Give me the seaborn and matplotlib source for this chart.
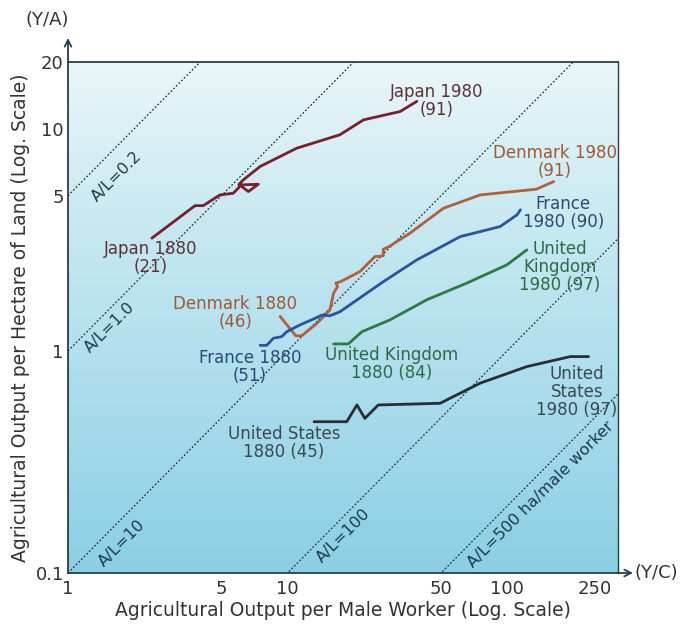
import numpy as np
import pandas as pd
import matplotlib
matplotlib.use("Agg")
import matplotlib.pyplot as plt
from matplotlib.colors import LinearSegmentedColormap
import seaborn as sns

# ---- series: agricultural output per male worker (x) vs per hectare (y), 1880-1980
japan_x = [2.41, 3.79, 4.13, 4.92, 5.66, 5.97, 6.08, 7.36, 6.63, 6.0, 6.3, 7.5, 11.0, 17.3, 22.2, 32.6, 38.8]
japan_y = [3.22, 4.51, 4.51, 5.04, 5.13, 5.41, 5.59, 5.63, 5.22, 5.62, 5.9, 6.77, 8.18, 9.4, 10.98, 11.97, 13.3]

denmark_x = [9.25, 10.9, 11.6, 13.6, 15.6, 16.2, 16.9, 16.6, 17.4, 19.3, 21.4, 25.0, 27.3, 27.3, 29.0, 36.1, 51.3, 75.4, 136, 163]
denmark_y = [1.43, 1.17, 1.17, 1.33, 1.53, 1.82, 1.95, 2.02, 2.05, 2.16, 2.28, 2.66, 2.68, 2.87, 2.95, 3.39, 4.39, 5.04, 5.35, 5.79]

france_x = [7.5, 8.04, 8.62, 9.41, 9.91, 11.4, 13.3, 14.3, 15.6, 17.3, 27.3, 38.8, 61.1, 92.9, 111, 115]
france_y = [1.06, 1.06, 1.14, 1.16, 1.22, 1.31, 1.40, 1.45, 1.44, 1.50, 2.05, 2.57, 3.27, 3.63, 4.1, 4.32]

uk_x = [16.2, 18.9, 21.8, 29.3, 43.1, 65.5, 99.7, 123]
uk_y = [1.075, 1.075, 1.22, 1.38, 1.70, 2.02, 2.44, 2.85]

us_x = [13.2, 18.6, 20.7, 22.5, 25.9, 49.5, 75.4, 123, 194, 235]
us_y = [0.48, 0.48, 0.571, 0.497, 0.571, 0.581, 0.716, 0.85, 0.943, 0.943]

countries = ["Japan", "Denmark", "France", "United Kingdom", "United States"]
line_colors = ["#7a1e2c", "#b0603a", "#2a52a0", "#2e7a40", "#2a2e33"]
text_colors = ["#5a3236", "#9c5a36", "#2a4878", "#2d6a45", "#3a4852"]

# land-labour ratio reference lines (ha per male worker)
al_ratios = [0.2, 1.0, 10, 100, 500]
al_labels = ["A/L=0.2", "A/L=1.0", "A/L=10", "A/L=100", "A/L=500 ha/male worker"]
al_label_pos = [(1.67, 6.08), (1.55, 1.27), (1.76, 0.136), (17.9, 0.148), (143, 0.225)]

x_ticks = [1, 5, 10, 50, 100, 250]
x_ticklabels = ["1", "5", "10", "50", "100", "250"]
y_ticks = [0.1, 1, 5, 10, 20]
y_ticklabels = ["0.1", "1", "5", "10", "20"]

# endpoint annotations: (text, x, y, colour index)
point_labels = [
    ("Japan 1880\n(21)", 2.39, 2.61, 0),
    ("Japan 1980\n(91)", 48.0, 13.4, 0),
    ("Denmark 1880\n(46)", 5.77, 1.48, 1),
    ("Denmark 1980\n(91)", 165, 7.1, 1),
    ("France 1880\n(51)", 6.75, 0.843, 2),
    ("France\n1980 (90)", 180, 4.16, 2),
    ("United Kingdom\n1880 (84)", 29.9, 0.869, 3),
    ("United\nKingdom\n1980 (97)", 174, 2.39, 3),
    ("United States\n1880 (45)", 9.64, 0.385, 4),
    ("United\nStates\n1980 (97)", 208, 0.65, 4),
]

sns.set_theme(style="white")
plt.rcParams["font.family"] = ["DejaVu Sans"]

series = {
    "Japan": (japan_x, japan_y),
    "Denmark": (denmark_x, denmark_y),
    "France": (france_x, france_y),
    "United Kingdom": (uk_x, uk_y),
    "United States": (us_x, us_y),
}
frames = []
for name in countries:
    xs, ys = series[name]
    frames.append(pd.DataFrame({"country": name, "step": range(len(xs)),
                                "output_per_worker": xs, "output_per_ha": ys}))
df = pd.concat(frames, ignore_index=True)

W, H = 684, 624
fig = plt.figure(figsize=(W / 100, H / 100), dpi=100)
fig.patch.set_facecolor("white")
left, right, top, bottom = 68, 618, 62, 573
rect = [left / W, 1 - bottom / H, (right - left) / W, (bottom - top) / H]

# background wash: pale at the top, sky blue at the bottom
bg = fig.add_axes(rect, zorder=0)
cmap = LinearSegmentedColormap.from_list(
    "wash", ["#8bcfe4", "#a9dcec", "#c6e8f1", "#e9f6f8"])
grad = np.linspace(0, 1, 256).reshape(-1, 1)
bg.imshow(grad, aspect="auto", cmap=cmap, origin="lower", extent=[0, 1, 0, 1])
bg.set_axis_off()

ax = fig.add_axes(rect, zorder=1)
ax.set_facecolor("none")
ax.set_xscale("log")
ax.set_yscale("log")
ax.set_xlim(1, 320)
ax.set_ylim(0.1, 20)

# reference lines of constant land per worker: y = x / (A/L)
xs_ref = np.geomspace(1, 320, 200)
for ratio in al_ratios:
    ax.plot(xs_ref, xs_ref / ratio, color="#1e2a33", lw=0.9,
            ls=(0, (1.4, 1.6)), zorder=2)
for text, (tx, ty) in zip(al_labels, al_label_pos):
    ax.text(tx, ty, text, rotation=45, rotation_mode="anchor",
            ha="center", va="center", fontsize=11.5, color="#1d3a4c", zorder=3)

sns.lineplot(data=df, x="output_per_worker", y="output_per_ha", hue="country",
             hue_order=countries, palette=dict(zip(countries, line_colors)),
             sort=False, estimator=None, legend=False, lw=2.0, ax=ax, zorder=4)

for text, tx, ty, ci in point_labels:
    ax.text(tx, ty, text, ha="center", va="center", fontsize=12,
            color=text_colors[ci], linespacing=1.0, zorder=5)

spine_color = "#2b3c46"
for s in ax.spines.values():
    s.set_color(spine_color)
    s.set_linewidth(1.3)
ax.spines["right"].set_linewidth(1.0)

ax.set_xticks(x_ticks)
ax.set_xticklabels(x_ticklabels)
ax.set_yticks(y_ticks)
ax.set_yticklabels(y_ticklabels)
ax.minorticks_off()
ax.tick_params(axis="both", which="major", direction="in", length=11,
               width=1.3, color=spine_color, labelsize=13, labelcolor="#333333")
ax.tick_params(axis="x", pad=5)
ax.tick_params(axis="y", pad=3)

ax.set_xlabel("Agricultural Output per Male Worker (Log. Scale)",
              fontsize=13.5, color="#333333", labelpad=2)
ax.set_ylabel("Agricultural Output per Hectare of Land (Log. Scale)",
              fontsize=13.5, color="#333333", labelpad=4)

# axis arrows and their symbols
arrow_kw = dict(arrowstyle="->", color=spine_color, lw=1.3,
                shrinkA=0, shrinkB=0, mutation_scale=12)
ax.annotate("", xy=(0, 1 + 24 / (bottom - top)), xytext=(0, 1),
            xycoords="axes fraction", arrowprops=arrow_kw,
            annotation_clip=False)
ax.annotate("", xy=(1 + 15 / (right - left), 0), xytext=(1, 0),
            xycoords="axes fraction", arrowprops=arrow_kw,
            annotation_clip=False)
fig.text(47 / W, 1 - 20 / H, "(Y/A)", ha="center", va="center",
         fontsize=13, color="#333333")
fig.text(634 / W, 1 - 573 / H, "(Y/C)", ha="left", va="center",
         fontsize=13, color="#333333")

fig.savefig("out.png", dpi=100)
